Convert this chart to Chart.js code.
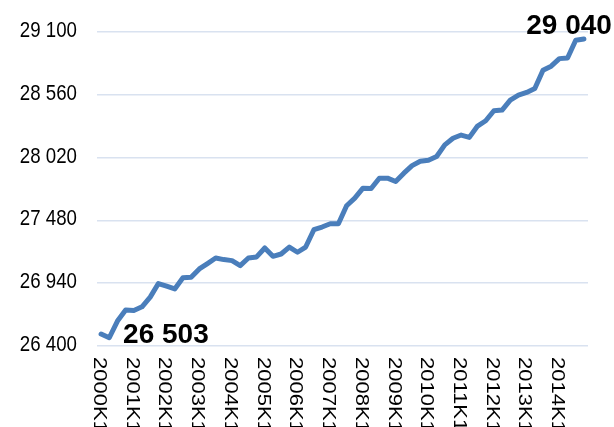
<!DOCTYPE html>
<html>
<head>
<meta charset="utf-8">
<script src="https://cdn.jsdelivr.net/npm/chart.js@4/dist/chart.umd.min.js"></script>
<style>
    body { margin: 0; background: #fff; }
    canvas { display: block; }
</style>
</head>
<body>
<canvas id="kurChart" width="614" height="427"></canvas>
<script>
const years = [2000, 2001, 2002, 2003, 2004, 2005, 2006, 2007, 2008, 2009, 2010, 2011, 2012, 2013, 2014];
const quarters = ["K1", "K2", "K3", "K4"];
const values = [
    26503, 26471, 26614, 26709, 26706, 26737, 26820, 26937, 26914, 26891,
    26986, 26991, 27063, 27109, 27157, 27143, 27134, 27091, 27157, 27166,
    27243, 27171, 27191, 27251, 27206, 27251, 27400, 27423, 27451, 27451,
    27606, 27671, 27757, 27754, 27843, 27843, 27814, 27886, 27951, 27989,
    27997, 28029, 28129, 28186, 28214, 28194, 28291, 28337, 28423, 28429,
    28514, 28557, 28580, 28614, 28771, 28806, 28871, 28877, 29029, 29040
];
const yTicks = [26400, 26940, 27480, 28020, 28560, 29100];

const labels = [];
years.forEach(y => quarters.forEach(q => labels.push(y + q)));

function boslukla(v) {
    return String(v).replace(/\B(?=(\d{3})+(?!\d))/g, " ");
}

// Yazılar resimde yatayda biraz sıkışık
const SIKISMA = 0.85;
const YAZI = "22px 'Liberation Sans', Arial, sans-serif";

const etiketler = {
    id: "etiketler",
    afterDraw(chart) {
        const ctx = chart.ctx;
        const x = chart.scales.x;
        const y = chart.scales.y;
        const alan = chart.chartArea;
        ctx.save();
        ctx.fillStyle = "#000";
        ctx.font = YAZI;

        // y ekseni etiketleri
        ctx.textAlign = "right";
        ctx.textBaseline = "middle";
        yTicks.forEach(v => {
            ctx.save();
            ctx.translate(alan.left - 20, y.getPixelForValue(v) - 1);
            ctx.scale(SIKISMA, 1);
            ctx.fillText(boslukla(v), 0, 0);
            ctx.restore();
        });

        // x ekseni etiketleri, saat yönünde 90 derece
        ctx.textAlign = "left";
        labels.forEach((lab, i) => {
            if (i % 4 !== 0) return;
            ctx.save();
            ctx.translate(x.getPixelForValue(i) - 2, alan.bottom + 11);
            ctx.scale(SIKISMA, 1);
            ctx.rotate(Math.PI / 2);
            ctx.fillText(lab, 0, 0);
            ctx.restore();
        });

        // ilk ve son değer
        ctx.font = "bold 28px 'Liberation Sans', Arial, sans-serif";
        ctx.textBaseline = "alphabetic";
        const ilk = values[0];
        const son = values[values.length - 1];
        ctx.textAlign = "left";
        ctx.fillText(boslukla(ilk), x.getPixelForValue(0) + 22, y.getPixelForValue(ilk) + 9);
        ctx.textAlign = "right";
        ctx.fillText(boslukla(son), x.getPixelForValue(values.length - 1) + 28, y.getPixelForValue(son) - 5);
        ctx.restore();
    }
};

new Chart(document.getElementById("kurChart"), {
    type: "line",
    data: {
        labels,
        datasets: [{
            data: values,
            borderColor: "#4a7ebb",
            borderWidth: 5,
            pointRadius: 0,
            tension: 0,
            borderJoinStyle: "round",
            borderCapStyle: "round",
            fill: false
        }]
    },
    options: {
        responsive: false,
        animation: false,
        layout: { padding: { top: 32, right: 26, left: 0, bottom: 0 } },
        plugins: { legend: { display: false }, tooltip: { enabled: false } },
        scales: {
            x: {
                offset: true,
                grid: { display: false },
                border: { display: false },
                ticks: { display: false },
                afterFit: s => { s.height = 81; }
            },
            y: {
                min: 26400,
                max: 29100,
                afterBuildTicks: s => { s.ticks = yTicks.map(v => ({ value: v })); },
                afterFit: s => { s.width = 97; },
                grid: { color: "#d9e2f0", lineWidth: 1.5, drawTicks: false },
                border: { display: false },
                ticks: { display: false }
            }
        }
    },
    plugins: [etiketler]
});
</script>
</body>
</html>
